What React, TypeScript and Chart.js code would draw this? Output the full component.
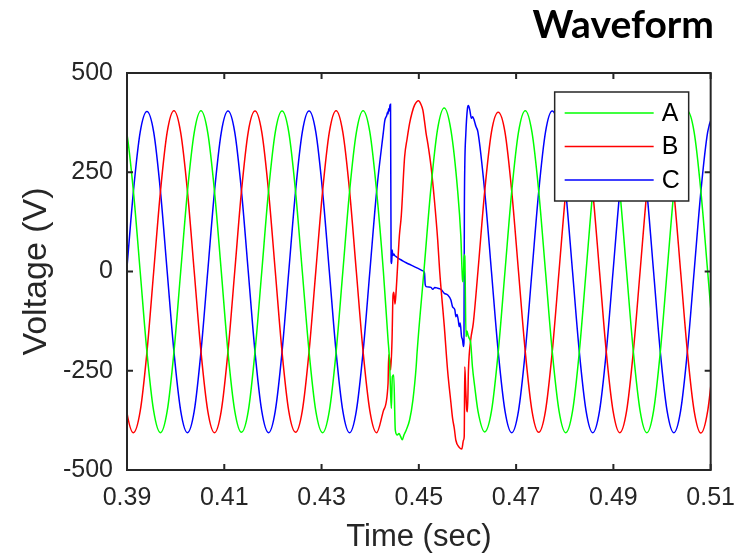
import React, { useEffect, useRef } from "react";
import { Chart, registerables } from "chart.js";

Chart.register(...registerables);

const chartTitle = "Waveform";
const xAxisTitle = "Time (sec)";
const yAxisTitle = "Voltage (V)";
const seriesLabels = ["A", "B", "C"];
const seriesColors = ["#00ff00", "#ff0000", "#0000ff"];
const xTicks = [0.39, 0.41, 0.43, 0.45, 0.47, 0.49, 0.51];
const yTicks = [-500, -250, 0, 250, 500];

// sample times (s)
const gridTimes = [
  0.38854, 0.38993, 0.39132, 0.39271, 0.3941, 0.39549, 0.39688, 0.39826, 0.39965, 0.40104, 0.40243, 0.40382,
  0.40521, 0.4066, 0.40799, 0.40938, 0.41076, 0.41215, 0.41354, 0.41493, 0.41632, 0.41771, 0.4191, 0.42049,
  0.42188, 0.42326, 0.42465, 0.42604, 0.42743, 0.42882, 0.43021, 0.4316, 0.43299, 0.43437, 0.43576, 0.43715,
  0.43854, 0.43993, 0.44132, 0.44271, 0.4441, 0.44549, 0.44688, 0.44826, 0.44965, 0.45104, 0.45243, 0.45382,
  0.45521, 0.4566, 0.45799, 0.45938, 0.46077, 0.46215, 0.46354, 0.46493, 0.46632, 0.46771, 0.4691, 0.47049,
  0.47188, 0.47326, 0.47465, 0.47604, 0.47743, 0.47882, 0.48021, 0.4816, 0.48299, 0.48438, 0.48576, 0.48715,
  0.48854, 0.48993, 0.49132, 0.49271, 0.4941, 0.49549, 0.49688, 0.49826, 0.49965, 0.50104, 0.50243, 0.50382,
  0.50521, 0.5066, 0.50799, 0.50938, 0.51076,
];

// phase A (green) voltage at gridTimes, null inside the fault detail
const phaseA = [
  404, 351, 202, 0, -203, -352, -406, -352, -203, 0, 202, 350,
  405, 350, 202, 1, -203, -351, -405, -352, -202, 0, 203, 351,
  404, 351, 202, 0, -202, -352, -406, -351, -203, -1, 202, 350,
  405, 351, 202, 0, null, null, null, null, -202, 0, 203, 356,
  412, 356, 202, null, null, -351, -404, -352, -203, 0, 202, 351,
  405, 351, 202, 0, -202, -351, -406, -352, -203, 0, 202, 351,
  404, 351, 203, 0, -202, -351, -406, -351, -202, 0, 202, 351,
  404, 351, 202, 0, -203,
];

// phase B (red)
const phaseB = [
  -202, -351, -406, -352, -203, 0, 202, 351, 405, 350, 202, 0,
  -202, -351, -406, -351, -202, 0, 203, 352, 404, 351, 202, 0,
  -203, -352, -405, -351, -202, 1, 202, 351, 405, 351, 203, 0,
  -202, -351, -406, -351, null, null, null, null, null, null, null, null,
  null, null, null, null, null, 0, 202, 351, 401, 351, 202, 0,
  -202, -351, -405, -351, -202, 0, 202, 351, 405, 351, 202, 0,
  -203, -351, -406, -352, -202, 0, 202, 351, 405, 351, 202, 0,
  -202, -351, -407, -352, -203,
];

// phase C (blue)
const phaseC = [
  -203, 0, 202, 351, 403, 351, 202, 0, -202, -351, -406, -352,
  -202, 0, 202, 350, 404, 351, 202, 0, -203, -352, -406, -351,
  -202, 0, 202, 351, 404, 351, 202, 0, -203, -351, -406, -351,
  -202, 0, 202, 351, null, null, null, null, null, null, null, null,
  null, null, null, null, null, 351, 202, 0, -202, -351, -406, -351,
  -202, 0, 202, 351, 404, 351, 202, 0, -202, -351, -406, -351,
  -202, 0, 202, 351, 404, 350, 202, 0, -203, -351, -406, -351,
  -202, 0, 202, 351, 404,
];

// fault detail
const faultTimesA = [
  0.44367, 0.44388, 0.44402, 0.44418, 0.44435, 0.44455, 0.44484, 0.44516, 0.44557, 0.44592, 0.44627, 0.44659,
  0.44694, 0.44741, 0.4481, 0.44878, 0.44945,
  0.45863, 0.45898, 0.4591, 0.45933, 0.45945, 0.4597, 0.4599, 0.4601, 0.46035, 0.46067, 0.46102, 0.4615,
];
const faultValuesA = [
  -172, -205, -240, -300, -345, -265, -261, -399, -412, -408, -416, -424,
  -412, -399, -374, -324, -240,
  90, -21, -26, 42, 38, -164, -150, -160, -168, -181, -240, -291,
];

const faultTimesB = [
  0.44367, 0.44381, 0.44402, 0.44422, 0.44449, 0.44469, 0.44485, 0.4451, 0.4453, 0.446, 0.44639, 0.44708,
  0.4476, 0.4481, 0.4486, 0.44912, 0.44994, 0.4504, 0.45082, 0.45115, 0.45149, 0.45184, 0.45251, 0.4532,
  0.45388, 0.45429, 0.45524, 0.45592, 0.45659, 0.45694, 0.45729, 0.45761, 0.45831, 0.45884, 0.45918, 0.45933,
  0.45945, 0.45965, 0.45986, 0.46, 0.4602, 0.46067, 0.4612,
];
const faultValuesB = [
  -282, -210, -223, -248, -172, -60, -52, -82, -55, 90, 140, 289,
  335, 373, 400, 419, 430, 422, 407, 380, 348, 323, 264, 180,
  79, 0, -139, -250, -330, -370, -395, -425, -443, -447, -425, -416,
  -240, -300, -349, -353, -248, -172, -130,
];

const faultTimesC = [
  0.443, 0.4434, 0.44358, 0.44368, 0.4438, 0.44392, 0.44405, 0.44418, 0.4443, 0.44442, 0.44452, 0.44465,
  0.44485, 0.44504, 0.4454, 0.4458, 0.44639, 0.4474, 0.44843, 0.4496, 0.4506, 0.45102, 0.45118, 0.4513,
  0.45149, 0.45251, 0.45286, 0.4533, 0.45388, 0.45455, 0.45524, 0.45592, 0.45659, 0.45694, 0.45741, 0.45761,
  0.45785, 0.4581, 0.45831, 0.4585, 0.45878, 0.45898, 0.45918, 0.45928, 0.45936, 0.45945, 0.45965, 0.46,
  0.4602, 0.46047, 0.46081, 0.46108, 0.46135, 0.46175,
];
const faultValuesC = [
  380, 393, 402, 397, 410, 404, 418, 421, 25, 20, 54, 40,
  44, 40, 37, 33, 29, 22, 16, 9, 3, 0, -5, -32,
  -38, -40, -45, -40, -42, -45, -55, -59, -72, -89, -97, -114,
  -108, -122, -139, -130, -164, -172, -189, -178, 150, 268, 344, 411,
  418, 407, 386, 390, 382, 365,
];

function buildPoints(base: (number | null)[], ft: number[], fv: number[]) {
  const pts: { x: number; y: number }[] = [];
  gridTimes.forEach((t, i) => {
    const v = base[i];
    if (v !== null && v !== undefined) pts.push({ x: t, y: v });
  });
  ft.forEach((t, i) => pts.push({ x: t, y: fv[i] }));
  pts.sort((a, b) => a.x - b.x);
  return pts;
}

const AXIS = "#262626";
const FONT = "'Liberation Sans', Arial, Helvetica, sans-serif";

const framePlugin = {
  id: "frame",
  afterDatasetsDraw(chart: any) {
    const { ctx, chartArea: a, scales } = chart;
    const xs = scales.x;
    const ys = scales.y;
    ctx.save();
    ctx.strokeStyle = AXIS;
    ctx.lineWidth = 2;
    ctx.strokeRect(a.left, a.top, a.right - a.left, a.bottom - a.top);
    const len = 6;
    ctx.beginPath();
    xTicks.forEach((v) => {
      const px = xs.getPixelForValue(v);
      ctx.moveTo(px, a.bottom);
      ctx.lineTo(px, a.bottom - len);
      ctx.moveTo(px, a.top);
      ctx.lineTo(px, a.top + len);
    });
    yTicks.forEach((v) => {
      const py = ys.getPixelForValue(v);
      ctx.moveTo(a.left, py);
      ctx.lineTo(a.left + len, py);
      ctx.moveTo(a.right, py);
      ctx.lineTo(a.right - len, py);
    });
    ctx.stroke();
    ctx.restore();
  },
};

const legendPlugin = {
  id: "boxLegend",
  afterDraw(chart: any) {
    const { ctx, chartArea: a } = chart;
    const w = 134;
    const h = 109;
    const left = a.right - 156;
    const top = a.top + 19;
    ctx.save();
    ctx.fillStyle = "#ffffff";
    ctx.fillRect(left, top, w, h);
    ctx.strokeStyle = AXIS;
    ctx.lineWidth = 1.5;
    ctx.strokeRect(left, top, w, h);
    ctx.font = `25px ${FONT}`;
    ctx.textBaseline = "middle";
    ctx.textAlign = "left";
    chart.data.datasets.forEach((ds: any, i: number) => {
      const yy = top + 21 + i * 33.5;
      ctx.strokeStyle = ds.borderColor;
      ctx.lineWidth = 1.5;
      ctx.beginPath();
      ctx.moveTo(left + 10, yy);
      ctx.lineTo(left + 99, yy);
      ctx.stroke();
      ctx.fillStyle = "#000000";
      ctx.fillText(ds.label, left + 107, yy + 1);
    });
    ctx.restore();
  },
};

export default function App() {
  const ref = useRef<HTMLCanvasElement>(null);
  useEffect(() => {
    const series = [
      buildPoints(phaseA, faultTimesA, faultValuesA),
      buildPoints(phaseB, faultTimesB, faultValuesB),
      buildPoints(phaseC, faultTimesC, faultValuesC),
    ];
    const chart = new Chart(ref.current as HTMLCanvasElement, {
      type: "line",
      data: {
        datasets: series.map((d, i) => ({
          label: seriesLabels[i],
          data: d,
          borderColor: seriesColors[i],
          backgroundColor: seriesColors[i],
          borderWidth: 1.5,
          pointRadius: 0,
          fill: false,
          cubicInterpolationMode: "monotone" as const,
        })),
      },
      options: {
        animation: false,
        responsive: true,
        maintainAspectRatio: false,
        events: [],
        layout: { padding: { left: 0, right: 34, top: 0, bottom: 0 } },
        plugins: {
          legend: { display: false },
          tooltip: { enabled: false },
          title: {
            display: true,
            text: chartTitle,
            align: "end",
            color: "#000000",
            font: { family: "Lato, 'Open Sans', sans-serif", size: 39, weight: "bold", lineHeight: 1.2 },
            padding: { top: 2, bottom: 24.2 },
          },
        },
        scales: {
          x: {
            type: "linear",
            min: 0.39,
            max: 0.51,
            afterBuildTicks: (s: any) => {
              s.ticks = xTicks.map((v) => ({ value: v }));
            },
            afterFit: (s: any) => {
              s.height = 86;
            },
            grid: { display: false, drawTicks: false },
            border: { display: false },
            ticks: {
              autoSkip: false,
              maxRotation: 0,
              minRotation: 0,
              padding: 13,
              color: AXIS,
              font: { family: FONT, size: 25 },
              callback: (v: any) => Number(v).toFixed(2),
            },
            title: {
              display: true,
              text: xAxisTitle,
              color: AXIS,
              font: { family: FONT, size: 31 },
              padding: { top: 0, bottom: 0 },
            },
          },
          y: {
            type: "linear",
            min: -500,
            max: 500,
            afterBuildTicks: (s: any) => {
              s.ticks = yTicks.map((v) => ({ value: v }));
            },
            afterFit: (s: any) => {
              s.width = 127;
            },
            grid: { display: false, drawTicks: false },
            border: { display: false },
            ticks: {
              padding: 14,
              color: AXIS,
              font: { family: FONT, size: 25 },
              callback: (v: any) => String(v),
            },
            title: {
              display: true,
              text: yAxisTitle,
              color: AXIS,
              font: { family: FONT, size: 34 },
              padding: { top: 16, bottom: 0 },
            },
          },
        },
      },
      plugins: [framePlugin, legendPlugin],
    });
    return () => chart.destroy();
  }, []);
  return (
    <div style={{ position: "absolute", left: 0, top: 0, width: 748, height: 556, background: "#ffffff" }}>
      <canvas ref={ref} />
    </div>
  );
}
